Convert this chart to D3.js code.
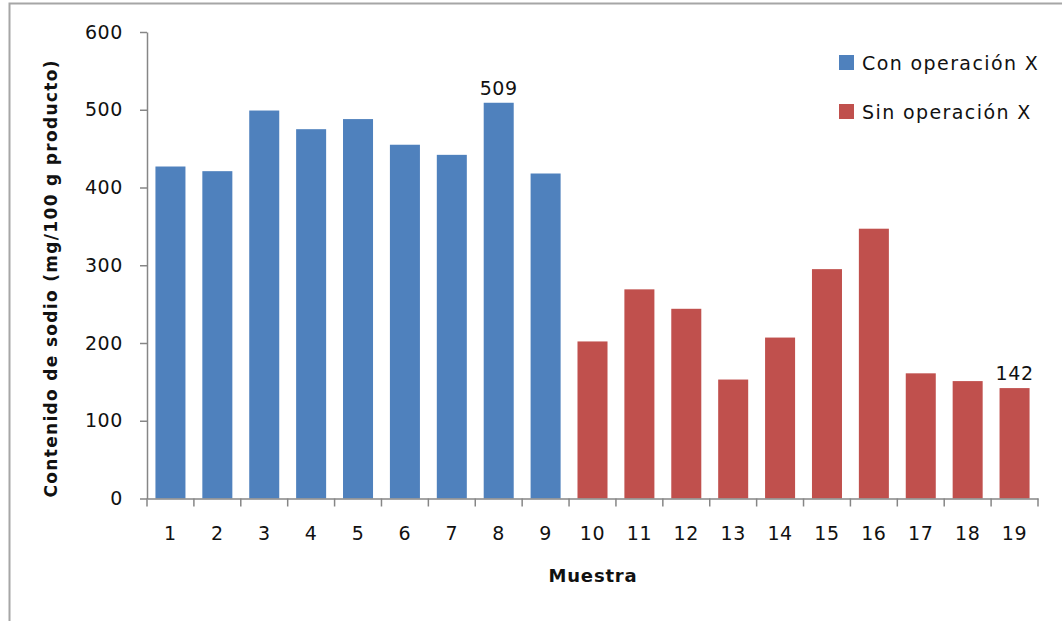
<!DOCTYPE html>
<html><head><meta charset="utf-8">
<script src="https://cdn.jsdelivr.net/npm/d3@7"></script>
<style>
body{margin:0;background:#fff;}
text{font-family:"DejaVu Sans",sans-serif;}
</style></head>
<body><svg id="c" width="1062" height="621"></svg>
<script>
const categories = ["1","2","3","4","5","6","7","8","9","10","11","12","13","14","15","16","17","18","19"];
const conValues = [427,421,499,475,488,455,442,509,418,null,null,null,null,null,null,null,null,null,null];
const sinValues = [null,null,null,null,null,null,null,null,null,202,269,244,153,207,295,347,161,151,142];
const seriesNames = ["Con operación X","Sin operación X"];
const yTicks = [0,100,200,300,400,500,600];
const labelled = [{series:0, cat:"8", text:"509"},{series:1, cat:"19", text:"142"}];

(function(){
const colors = ["#4F81BD","#C0504D"];
const svg = d3.select("#c");

// outer frame
svg.append("rect").attr("x",9.5).attr("y",3.5).attr("width",1100).attr("height",700)
  .attr("fill","none").attr("stroke","#a6a6a6").attr("stroke-width",2);

const pL=147, pR=1038, pT=32, pB=498.5;
const x = d3.scaleBand().domain(categories).range([pL,pR]).paddingInner(0.36).paddingOuter(0.18);
const y = d3.scaleLinear().domain([0,600]).range([pB,pT]);

const series = [conValues, sinValues];
series.forEach((vals,si)=>{
  svg.append("g").selectAll("rect").data(categories.map((c,i)=>({c,v:vals[i]})).filter(d=>d.v!=null))
    .join("rect")
    .attr("x",d=>x(d.c)).attr("width",x.bandwidth())
    .attr("y",d=>y(d.v)).attr("height",d=>y(0)-y(d.v))
    .attr("fill",colors[si]);
});

// y axis
const ya = svg.append("g").attr("transform",`translate(${pL},0)`)
  .call(d3.axisLeft(y).tickValues(yTicks).tickSize(7).tickSizeOuter(0).tickPadding(17));
ya.select(".domain").attr("stroke","#868686").attr("stroke-width",1.5);
ya.selectAll(".tick line").attr("stroke","#868686").attr("stroke-width",1.5);
ya.selectAll(".tick text").attr("font-size",19).attr("fill","#111").attr("letter-spacing","0.6px")
  .attr("font-family","DejaVu Sans");

// x axis
const xa = svg.append("g").attr("transform",`translate(0,${pB})`)
  .call(d3.axisBottom(x).tickSize(0).tickSizeOuter(0).tickPadding(28));
xa.select(".domain").attr("stroke","#868686").attr("stroke-width",1.5);
xa.selectAll(".tick text").attr("font-size",19).attr("fill","#111").attr("letter-spacing","0.6px")
  .attr("font-family","DejaVu Sans");
// boundary ticks
const bounds = d3.range(categories.length+1).map(i=>pL + i*x.step());
xa.selectAll("line.b").data(bounds).join("line").attr("class","b")
  .attr("x1",d=>d).attr("x2",d=>d).attr("y1",0).attr("y2",8)
  .attr("stroke","#868686").attr("stroke-width",1.5);

// data labels
labelled.forEach(l=>{
  const v = series[l.series][categories.indexOf(l.cat)];
  svg.append("text").attr("x",x(l.cat)+x.bandwidth()/2).attr("y",y(v)-8)
    .attr("text-anchor","middle").attr("font-size",19).attr("letter-spacing","0.6px")
    .attr("fill","#111").text(l.text);
});

// axis titles
svg.append("text").attr("x",593).attr("y",582).attr("text-anchor","middle")
  .attr("font-size",18).attr("font-weight","bold").attr("fill","#111").attr("letter-spacing","0.8px")
  .text("Muestra");
svg.append("text").attr("transform","translate(57,279) rotate(-90)").attr("text-anchor","middle")
  .attr("font-size",17).attr("font-weight","bold").attr("fill","#111")
  .attr("textLength",437).attr("lengthAdjust","spacing")
  .text("Contenido de sodio  (mg/100 g producto)");

// legend
const lg = svg.append("g");
seriesNames.forEach((n,i)=>{
  const yy = 63 + i*49;
  lg.append("rect").attr("x",839).attr("y",yy-8).attr("width",15).attr("height",15).attr("fill",colors[i]);
  lg.append("text").attr("x",862).attr("y",yy+7).attr("font-size",19).attr("letter-spacing","1.4px")
    .attr("fill","#111").text(n);
});
})();
</script></body></html>
